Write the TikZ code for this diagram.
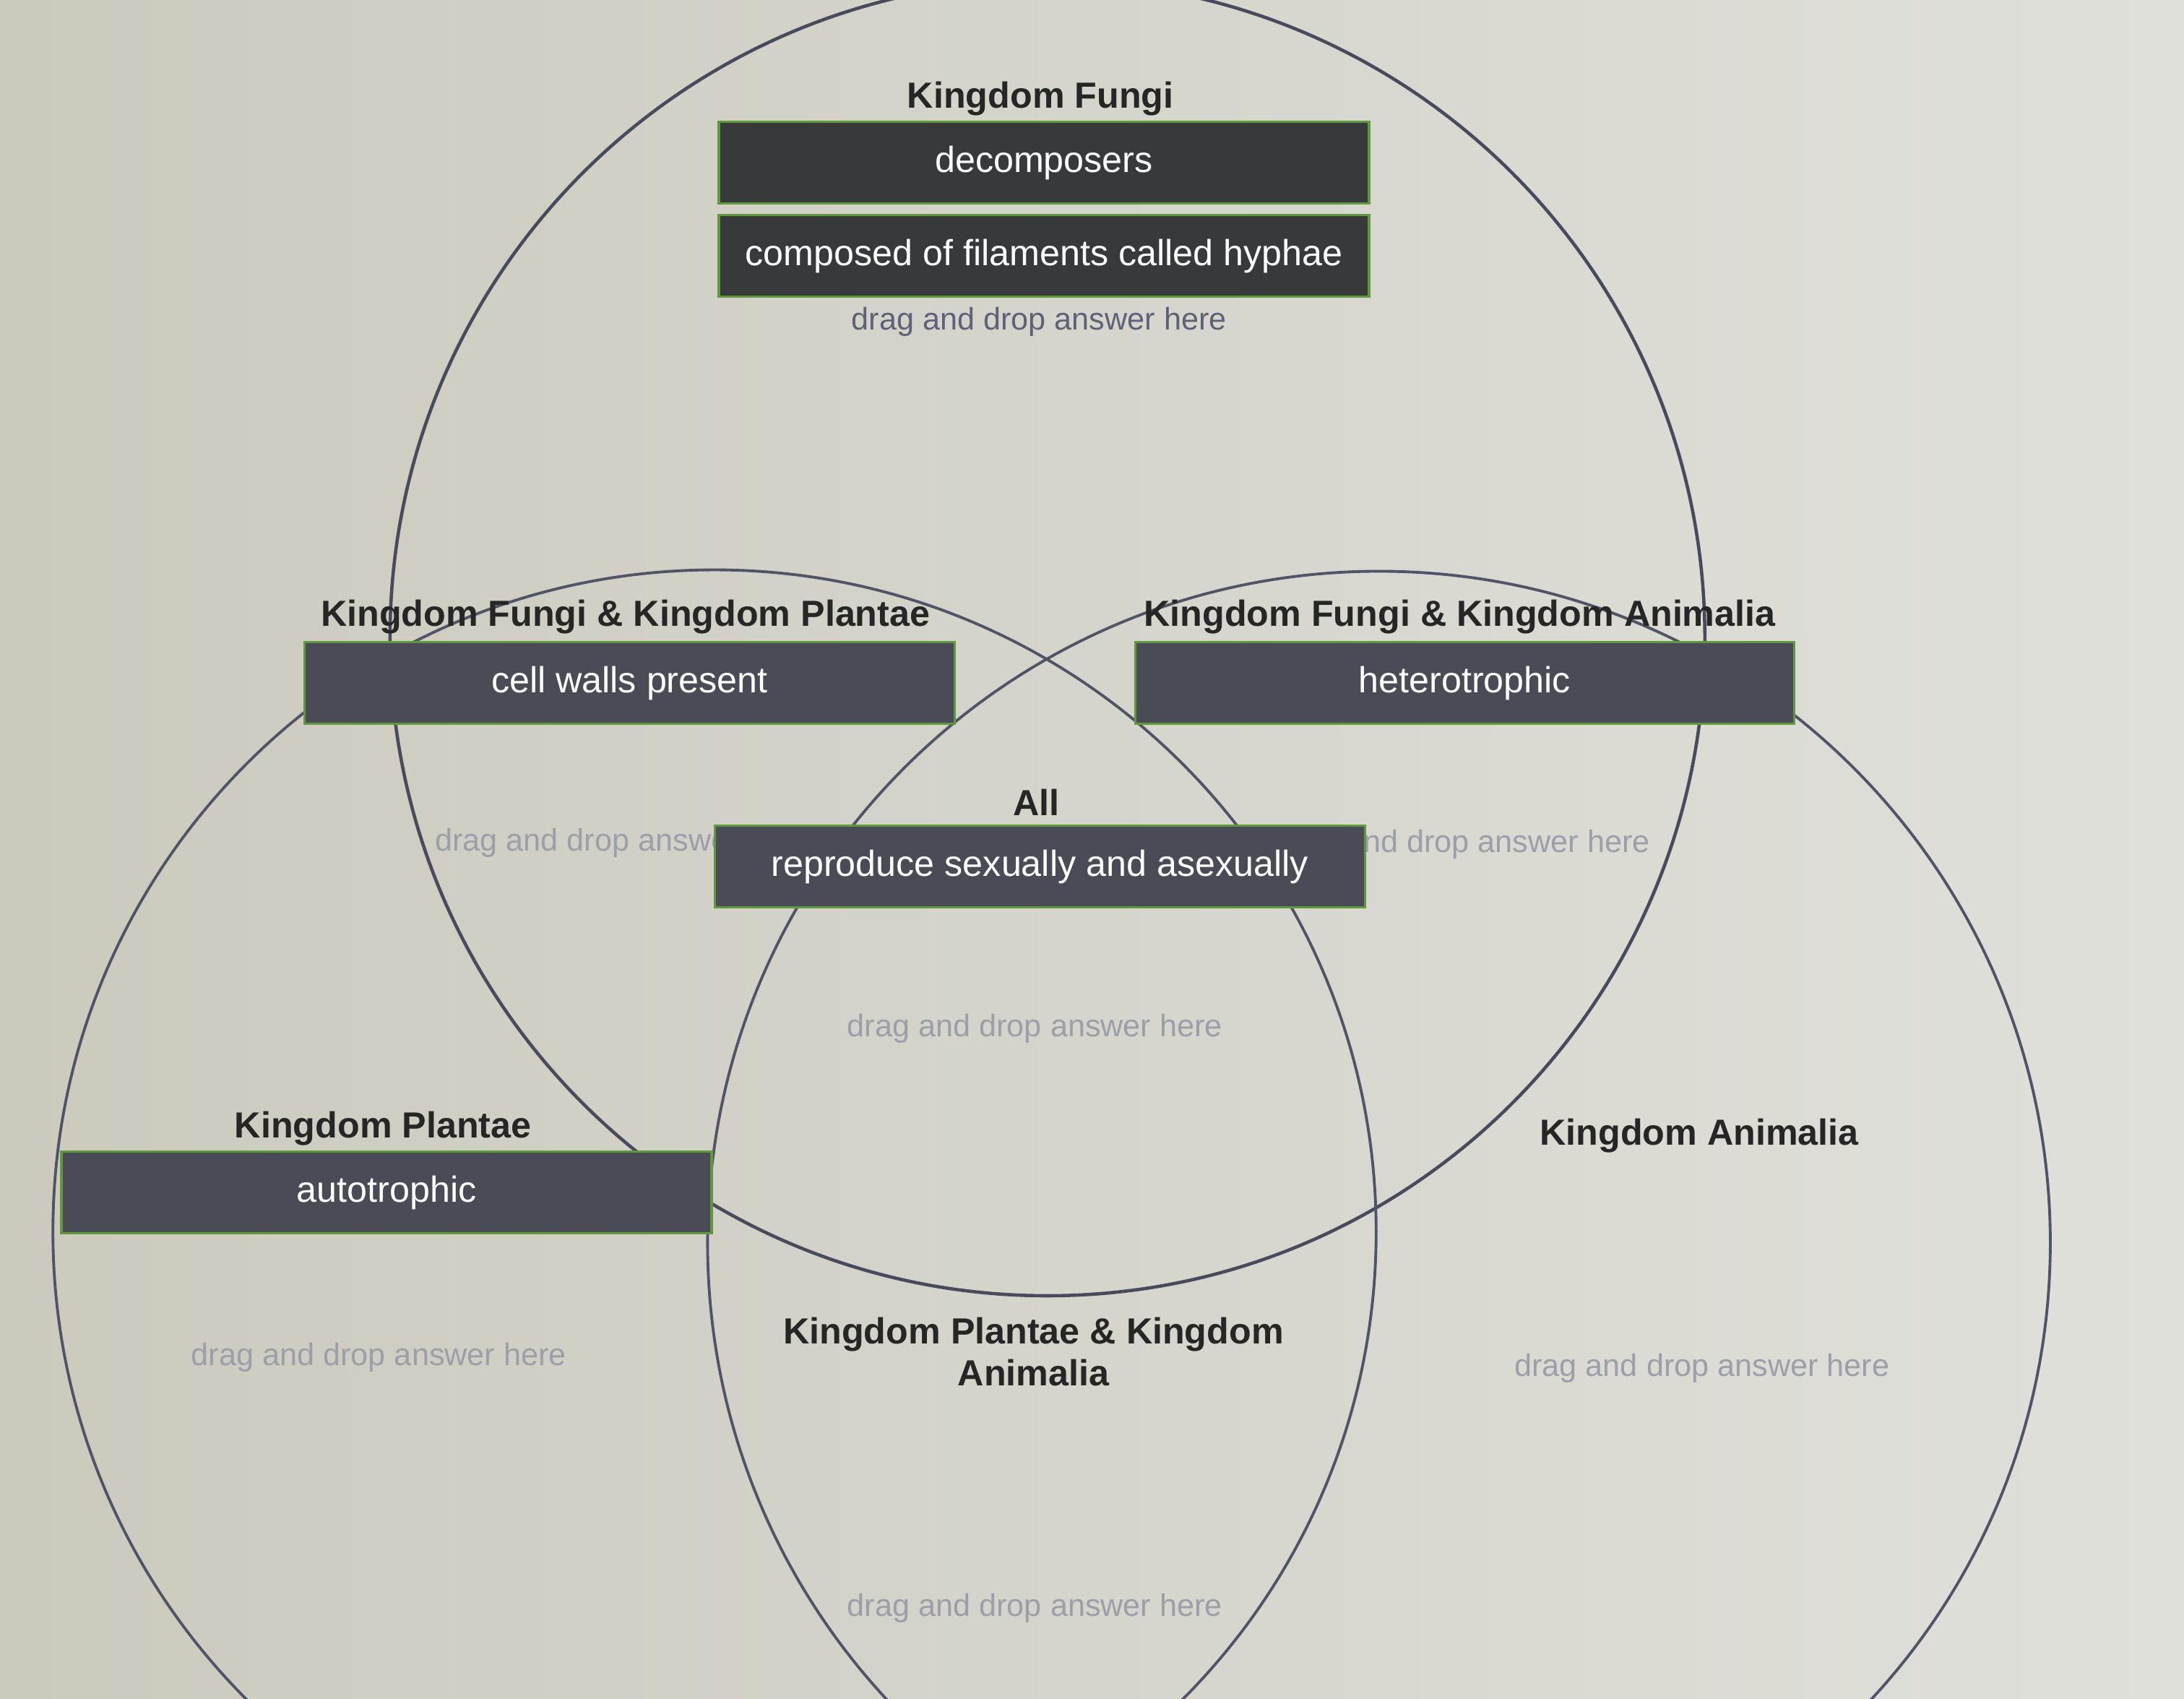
\documentclass[tikz,border=0pt]{standalone}
\usepackage{fontspec}
\setmainfont{Liberation Sans}
\usepackage{xcolor}
\usepackage{tikz}
\definecolor{bgleft}{HTML}{CCCABD}
\definecolor{bgright}{HTML}{E0E0DB}
\definecolor{ring}{HTML}{505468}
\definecolor{boxfill}{HTML}{4A4B56}
\definecolor{boxdark}{HTML}{38393B}
\definecolor{boxedge}{HTML}{5E9A3C}
\definecolor{hint}{HTML}{9C9EAA}
\definecolor{hintdark}{HTML}{5E6278}
\tikzset{
  answer/.style={draw=boxedge, line width=0.9pt, fill=boxfill, text=white,
    minimum width=90mm, minimum height=11.3mm, inner sep=0pt, text depth=0.5ex,
    font=\fontsize{14.3}{16}\selectfont},
  heading/.style={font=\fontsize{14.3}{16.5}\selectfont\bfseries, text=black!85, align=center},
  hint/.style={font=\fontsize{12.3}{14}\selectfont, text=hint},
}

\begin{document}
\begin{tikzpicture}[x=0.1928mm, y=-0.1928mm]
    %LATAR
    \shade[left color=bgleft, right color=bgright] (0,0) rectangle (1568,1219);
    \useasboundingbox (0,0) rectangle (1568,1219);
    %KOORDINAT
    \coordinate (F) at (752,458);
    \coordinate (P) at (513,884);
    \coordinate (A) at (990,892);
    %LINGKARAN
    \begin{scope}
    \clip (0,0) rectangle (1568,1219);
    \draw[ring!90!black, line width=1.3pt] (F) circle (472);
    \draw[ring, line width=1.1pt] (P) circle (475);
    \draw[ring, line width=1.1pt] (A) circle (482);
    \end{scope}
    %DRAG AND DROP
    \node[hint, text=hintdark] (hF) at (746,231) {drag and drop answer here};
    \node[hint] (hFP) at (447,605) {drag and drop answer here};
    \node[hint] (hFA) at (1050,606) {drag and drop answer here};
    \node[hint] (hAll) at (743,738) {drag and drop answer here};
    \node[hint] (hP) at (272,974) {drag and drop answer here};
    \node[hint] (hA) at (1222,982) {drag and drop answer here};
    \node[hint] (hPA) at (743,1154) {drag and drop answer here};
    %KOTAK
    \node[answer, fill=boxdark] (decomp) at (749.5,116.5) {decomposers};
    \node[answer, fill=boxdark] (hyphae) at (749.5,183.5) {composed of filaments called hyphae};
    \node[answer] (walls) at (452,490) {cell walls present};
    \node[answer, minimum width=91.2mm] (hetero) at (1051.5,490) {heterotrophic};
    \node[answer] (repro) at (746.5,622) {reproduce sexually and asexually};
    \node[answer] (auto) at (277.5,856) {autotrophic};
    %JUDUL
    \node[heading] (tF) at (747,71) {Kingdom Fungi};
    \node[heading] (tFP) at (449,443) {Kingdom Fungi \& Kingdom Plantae};
    \node[heading] (tFA) at (1048,443) {Kingdom Fungi \& Kingdom Animalia};
    \node[heading] (tAll) at (744,576) {All};
    \node[heading] (tP) at (275,810) {Kingdom Plantae};
    \node[heading] (tA) at (1220,815) {Kingdom Animalia};
    \node[heading] (tPA) at (742,970) {Kingdom Plantae \& Kingdom\\Animalia};
\end{tikzpicture}
\end{document}
